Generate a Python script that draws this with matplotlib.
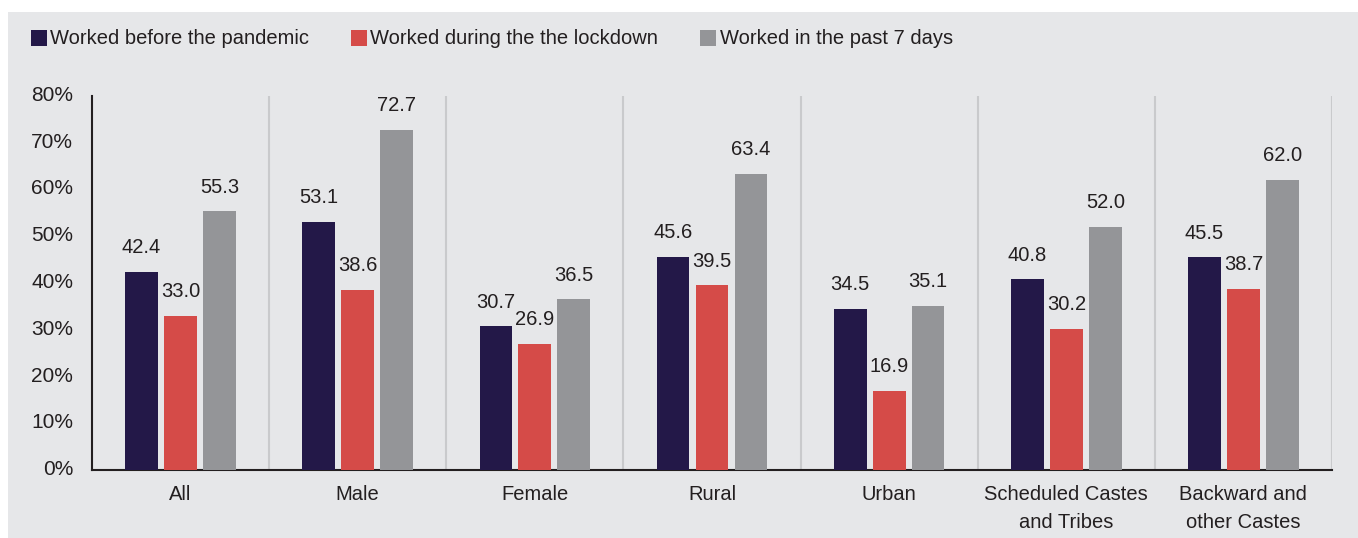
import matplotlib
matplotlib.use("Agg")
import matplotlib.pyplot as plt
from matplotlib.patches import Rectangle
from matplotlib.transforms import ScaledTranslation
import numpy as np

categories = ["All", "Male", "Female", "Rural", "Urban",
              "Scheduled Castes\nand Tribes", "Backward and\nother Castes"]
series_names = ["Worked before the pandemic",
                "Worked during the the lockdown",
                "Worked in the past 7 days"]
before = [42.4, 53.1, 30.7, 45.6, 34.5, 40.8, 45.5]
lockdown = [33.0, 38.6, 26.9, 39.5, 16.9, 30.2, 38.7]
past7 = [55.3, 72.7, 36.5, 63.4, 35.1, 52.0, 62.0]
yticks = [0, 10, 20, 30, 40, 50, 60, 70, 80]
ytick_labels = ["0%", "10%", "20%", "30%", "40%", "50%", "60%", "70%", "80%"]

colors = ["#231848", "#d54b48", "#949598"]
bg = "#e6e7e9"
txt = "#231f20"
FONT = ["Liberation Sans Narrow", "Liberation Sans", "DejaVu Sans"]
plt.rcParams["font.family"] = FONT

W, H = 1358, 538
fig = plt.figure(figsize=(W / 100, H / 100), dpi=100, facecolor="white")
fig.patches.append(Rectangle((8 / W, 0), 1 - 8 / W, 1 - 12 / H,
                             transform=fig.transFigure, facecolor=bg,
                             edgecolor="none", zorder=-10))

ax = fig.add_axes([92 / W, 1 - 470 / H, (1332 - 92) / W, (470 - 96) / H])
ax.set_facecolor(bg)
ax.patch.set_alpha(0)

x = np.arange(len(categories))
offsets = [-0.22, 0.0, 0.22]
width = 0.185
for vals, off, c in zip([before, lockdown, past7], offsets, colors):
    bars = ax.bar(x + off, vals, width=width, color=c, zorder=3)
    for xi, v in zip(x + off, vals):
        ax.annotate(f"{v:.1f}", (xi, v), xytext=(0, 13.5), textcoords="offset points",
                    ha="center", va="baseline", fontsize=14.5, color=txt)

for k in range(len(categories)):
    ax.axvline(k + 0.5, color="#c9cacc", lw=1.5, zorder=1)

ax.set_xlim(-0.5, len(categories) - 0.5)
ax.set_ylim(0, 80)
ax.set_yticks(yticks)
ax.set_yticklabels(ytick_labels)
ax.set_xticks(x)
ax.set_xticklabels(categories, linespacing=1.6)
ax.tick_params(axis="y", length=0, pad=13.5, labelsize=15, labelcolor=txt)
ax.tick_params(axis="x", length=0, pad=10.5, labelsize=14.5, labelcolor=txt)
for lab in ax.get_yticklabels():
    lab.set_transform(lab.get_transform() + ScaledTranslation(0, 2.5 / 100, fig.dpi_scale_trans))
for s in ["top", "right"]:
    ax.spines[s].set_visible(False)
for s in ["left", "bottom"]:
    ax.spines[s].set_color(txt)
    ax.spines[s].set_linewidth(1.5)

# legend
leg_items = [(31, 50), (351, 370), (700, 720)]
for (sx, tx), name, c in zip(leg_items, series_names, colors):
    fig.patches.append(Rectangle((sx / W, 1 - 46 / H), 16 / W, 16 / H,
                                 transform=fig.transFigure, facecolor=c,
                                 edgecolor="none"))
    fig.text(tx / W, 1 - 38 / H, name, ha="left", va="center",
             fontsize=14.5, color=txt)

fig.savefig("out.png", dpi=100, facecolor="white")
